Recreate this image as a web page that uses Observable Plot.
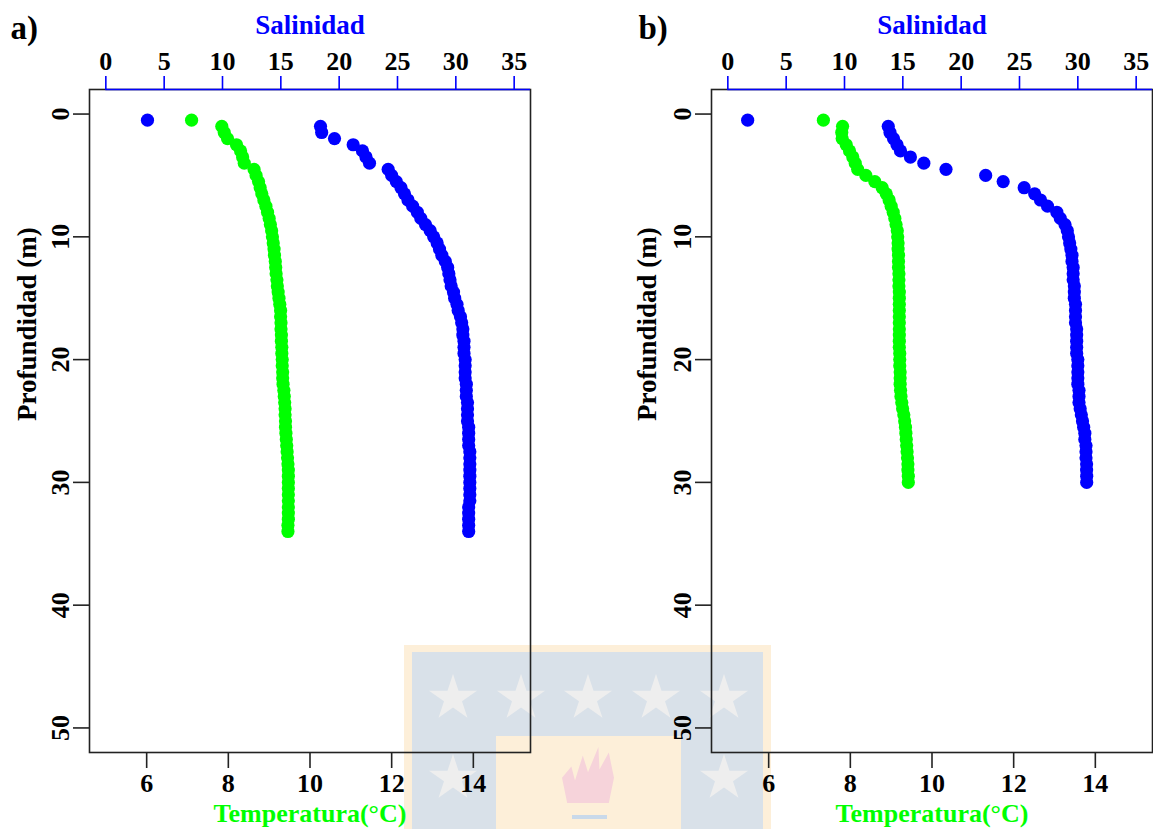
<!DOCTYPE html>
<html>
<head>
<meta charset="utf-8">
<script src="https://cdn.jsdelivr.net/npm/d3@7"></script>
<script src="https://cdn.jsdelivr.net/npm/@observablehq/plot@0.6"></script>
<style>
  body { margin: 0; background: #fff; }
  #fig { position: relative; width: 1153px; height: 829px; overflow: hidden; font-family: "Liberation Serif", serif; }
  .layer { position: absolute; top: 0; }
  .wm { position: absolute; }
  .star { position: absolute; width: 50px; height: 48px; background: #eeeeee;
    clip-path: polygon(50% 0%, 61% 35%, 98% 35%, 68% 57%, 79% 91%, 50% 70%, 21% 91%, 32% 57%, 2% 35%, 39% 35%); }
</style>
</head>
<body>
<div id="fig"></div>
<script>
// ---- data ----
const depthA = [0.5,1,1.5,2,2.5,3,3.5,4,4.5,5,5.5,6,6.5,7,7.5,8,8.5,9,9.5,10,
  10.5,11,11.5,12,12.5,13,13.5,14,14.5,15,15.5,16,16.5,17,17.5,18,18.5,19,19.5,20,
  20.5,21,21.5,22,22.5,23,23.5,24,24.5,25,25.5,26,26.5,27,27.5,28,28.5,29,29.5,30,
  30.5,31,31.5,32,32.5,33,33.5,34];
const tempA = [7.10,7.84,7.90,7.98,8.20,8.30,8.35,8.39,8.63,8.68,
  8.74,8.78,8.82,8.87,8.92,8.96,9.00,9.03,9.06,9.08,
  9.10,9.12,9.13,9.15,9.16,9.17,9.19,9.20,9.22,9.24,
  9.26,9.28,9.28,9.29,9.29,9.30,9.30,9.31,9.31,9.32,
  9.32,9.33,9.33,9.34,9.36,9.37,9.38,9.39,9.39,9.40,
  9.40,9.41,9.42,9.43,9.44,9.45,9.46,9.47,9.47,9.47,
  9.47,9.47,9.47,9.47,9.47,9.47,9.46,9.46];
const salA = [3.57,18.4,18.5,19.6,21.2,22.0,22.3,22.6,24.2,24.5,
  24.9,25.3,25.6,25.9,26.3,26.7,27.0,27.4,27.8,28.1,
  28.4,28.6,28.8,29.1,29.3,29.4,29.5,29.6,29.8,29.9,
  30.1,30.2,30.4,30.5,30.6,30.6,30.7,30.7,30.7,30.8,
  30.8,30.8,30.8,30.9,30.9,30.9,31.0,31.0,31.0,31.0,
  31.1,31.1,31.1,31.1,31.2,31.2,31.2,31.2,31.2,31.2,
  31.2,31.2,31.2,31.1,31.1,31.1,31.1,31.1];

const depthB = [0.5,1,1.5,2,2.5,3,3.5,4,4.5,5,5.5,6,6.5,7,7.5,8,8.5,9,9.5,10,
  10.5,11,11.5,12,12.5,13,13.5,14,14.5,15,15.5,16,16.5,17,17.5,18,18.5,19,19.5,20,
  20.5,21,21.5,22,22.5,23,23.5,24,24.5,25,25.5,26,26.5,27,27.5,28,28.5,29,29.5,30];
const tempB = [7.34,7.81,7.79,7.80,7.90,7.98,8.06,8.12,8.18,8.38,
  8.60,8.78,8.88,8.95,9.00,9.05,9.09,9.12,9.15,9.16,
  9.17,9.17,9.18,9.18,9.18,9.19,9.19,9.19,9.20,9.20,
  9.20,9.20,9.20,9.20,9.20,9.20,9.20,9.20,9.21,9.21,
  9.21,9.22,9.22,9.22,9.23,9.24,9.26,9.28,9.31,9.33,
  9.35,9.36,9.37,9.38,9.39,9.40,9.41,9.41,9.42,9.42];
const salB = [1.7,13.75,13.9,14.2,14.5,14.8,15.65,16.8,18.7,22.1,
  23.6,25.4,26.3,26.8,27.4,28.2,28.5,28.9,29.1,29.2,
  29.3,29.4,29.5,29.5,29.6,29.6,29.6,29.7,29.7,29.7,
  29.8,29.8,29.8,29.8,29.9,29.9,29.9,29.9,29.9,30.0,
  30.0,30.0,30.0,30.0,30.1,30.1,30.1,30.2,30.3,30.4,
  30.5,30.6,30.6,30.7,30.7,30.7,30.75,30.75,30.76,30.76];

const tempTicks = [6, 8, 10, 12, 14];
const salTicks = [0, 5, 10, 15, 20, 25, 30, 35];
const depthTicks = [0, 10, 20, 30, 40, 50];
const tempDomain = [4.6, 15.4];
const salDomain = [-1.4, 36.4];
const depthDomain = [-2, 52];
const labels = { temp: "Temperatura(°C)", sal: "Salinidad", depth: "Profundidad (m)" };
const panelTags = ["a)", "b)"];

// ---- watermark (background logo) ----
const fig = document.getElementById("fig");
function box(l, t, w, h, bg) {
  const d = document.createElement("div");
  d.className = "wm";
  Object.assign(d.style, { left: l + "px", top: t + "px", width: w + "px", height: h + "px", background: bg });
  fig.appendChild(d);
  return d;
}
box(404, 645, 367, 184, "#fdefd9");
box(412, 652, 351, 177, "#d9e1e9");
box(496, 736, 185, 93, "#fdefd9");
[[428, 674], [496, 674], [563, 674], [631, 674], [699, 674], [428, 754], [699, 754]].forEach(([l, t]) => {
  const s = document.createElement("div");
  s.className = "star";
  s.style.left = l + "px"; s.style.top = t + "px";
  fig.appendChild(s);
});
const flame = box(562, 747, 52, 56, "#f6d3da");
flame.style.clipPath = "polygon(10% 100%, 0% 55%, 18% 35%, 25% 60%, 40% 15%, 50% 45%, 70% 0%, 72% 40%, 90% 10%, 100% 55%, 90% 100%)";
box(572, 815, 35, 4, "#c9d9ea");

// ---- panels ----
const baseStyle = { background: "transparent", fontFamily: "'Liberation Serif', serif", fontWeight: "bold",
  fontSize: "26px", color: "black", overflow: "visible" };

function addPanel({ left, width, mL, mR, depth, temp, sal, tag, tagDx, ylabDx }) {
  const tData = depth.map((d, i) => ({ depth: d, temp: temp[i] }));
  const sData = depth.map((d, i) => ({ depth: d, sal: sal[i] }));
  const common = {
    width, height: 829, marginLeft: mL, marginRight: mR, marginTop: 89, marginBottom: 77,
    style: baseStyle
  };
  const base = Plot.plot({
    ...common,
    x: { domain: tempDomain },
    y: { domain: depthDomain, reverse: true },
    marks: [
      Plot.frame({ stroke: "#222", strokeWidth: 1.6 }),
      Plot.axisX({ anchor: "bottom", ticks: tempTicks, tickSize: 16, tickPadding: 5, label: null, stroke: "#222", strokeWidth: 1.6 }),
      Plot.axisY({ anchor: "left", ticks: depthTicks, tickSize: 16, tickPadding: 5, tickRotate: -90, label: null, stroke: "#222", strokeWidth: 1.6 }),
      Plot.text([labels.temp], { frameAnchor: "bottom", lineAnchor: "middle", dy: 61, fill: "#00ff00", fontSize: 26 }),
      Plot.text([labels.depth], { frameAnchor: "left", lineAnchor: "middle", dx: ylabDx, rotate: -90, fontSize: 27 }),
      Plot.text([tag], { frameAnchor: "top-left", lineAnchor: "middle", textAnchor: "start", dx: tagDx, dy: -61, fontSize: 33 }),
      Plot.dot(tData, { x: "temp", y: "depth", r: 6.6, fill: "#00ff00" })
    ]
  });
  const over = Plot.plot({
    ...common,
    x: { domain: salDomain },
    y: { domain: depthDomain, reverse: true, axis: null },
    marks: [
      Plot.ruleY([depthDomain[0]], { x1: salTicks[0], x2: salDomain[1], stroke: "blue", strokeWidth: 1.6 }),
      Plot.axisX({ anchor: "top", ticks: salTicks, tickSize: 14, tickPadding: 6, stroke: "blue", fill: "black", strokeWidth: 1.6, label: null }),
      Plot.text([labels.sal], { frameAnchor: "top", lineAnchor: "middle", dy: -64, fill: "blue", fontSize: 27 }),
      Plot.dot(sData, { x: "sal", y: "depth", r: 6.6, fill: "blue" })
    ]
  });
  for (const svg of [base, over]) {
    svg.classList.add("layer");
    svg.style.left = left + "px";
    fig.appendChild(svg);
  }
}

addPanel({ left: 0, width: 576, mL: 89, mR: 46, depth: depthA, temp: tempA, sal: salA, tag: panelTags[0], tagDx: -79, ylabDx: -62 });
addPanel({ left: 576, width: 577, mL: 135, mR: 1, depth: depthB, temp: tempB, sal: salB, tag: panelTags[1], tagDx: -73, ylabDx: -64 });
</script>
</body>
</html>
